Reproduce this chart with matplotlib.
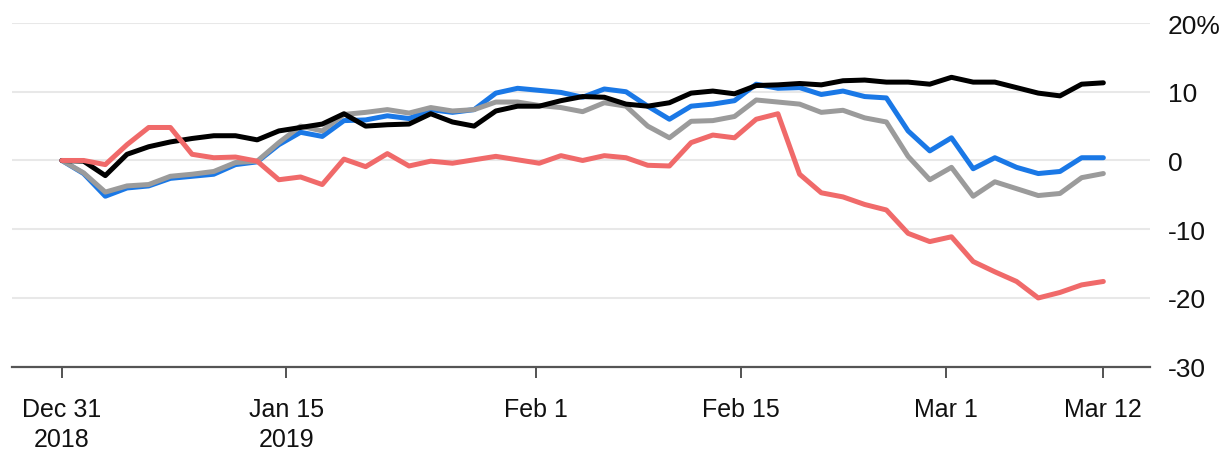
import matplotlib
matplotlib.use("Agg")
import matplotlib.pyplot as plt
import numpy as np

# Values (% change since Dec 31, 2018), one point per trading session
black = [0, -0.1, -2.2, 0.9, 2.0, 2.7, 3.2, 3.6, 3.6, 3.0,
         4.3, 4.8, 5.3, 6.8, 5.0, 5.2, 5.3, 6.8, 5.6, 5.0,
         7.2, 7.9, 7.9, 8.7, 9.3, 9.2, 8.2, 7.9, 8.4, 9.8,
         10.1, 9.7, 10.9, 11.0, 11.2, 11.0, 11.6, 11.7, 11.4, 11.4,
         11.1, 12.1, 11.4, 11.4, 10.6, 9.8, 9.4, 11.1, 11.3]
blue = [0, -1.9, -5.2, -4.0, -3.7, -2.6, -2.3, -2.0, -0.6, -0.2,
        2.3, 4.1, 3.5, 5.8, 5.9, 6.5, 6.1, 7.4, 7.0, 7.4,
        9.8, 10.5, 10.2, 9.9, 9.2, 10.4, 10.0, 7.9, 6.0, 7.9,
        8.2, 8.7, 11.1, 10.5, 10.6, 9.6, 10.1, 9.3, 9.1, 4.3,
        1.4, 3.3, -1.2, 0.4, -1.0, -1.9, -1.6, 0.4, 0.4]
gray = [0, -1.8, -4.6, -3.7, -3.5, -2.3, -2.0, -1.6, -0.3, -0.1,
        2.6, 5.0, 4.3, 6.7, 7.0, 7.4, 6.9, 7.7, 7.2, 7.4,
        8.5, 8.5, 8.0, 7.7, 7.1, 8.4, 7.9, 5.0, 3.3, 5.7,
        5.8, 6.4, 8.8, 8.5, 8.2, 7.0, 7.3, 6.2, 5.6, 0.6,
        -2.8, -1.0, -5.2, -3.1, -4.1, -5.1, -4.8, -2.5, -1.9]
red = [0, 0, -0.6, 2.3, 4.8, 4.8, 0.9, 0.4, 0.5, -0.1,
       -2.8, -2.4, -3.5, 0.2, -0.9, 1.0, -0.8, -0.1, -0.4, 0.1,
       0.6, 0.1, -0.4, 0.7, 0.0, 0.7, 0.4, -0.7, -0.8, 2.6,
       3.7, 3.3, 6.0, 6.8, -2.0, -4.7, -5.3, -6.4, -7.2, -10.6,
       -11.8, -11.1, -14.7, -16.2, -17.6, -20.0, -19.2, -18.1, -17.6]

tick_labels = ["Dec 31\n2018", "Jan 15\n2019", "Feb 1", "Feb 15", "Mar 1", "Mar 12"]
tick_pos = [0, 10.35, 21.86, 31.3, 40.76, 48]
ytick_vals = [20, 10, 0, -10, -20, -30]
ytick_labels = ["20%", "10", "0", "-10", "-20", "-30"]

plt.rcParams['font.family'] = ['Liberation Sans', 'DejaVu Sans']

W, H = 1232, 456
fig = plt.figure(figsize=(W / 100, H / 100), dpi=100)
left, right, top, bottom = 12, 1150, 24, 367.7
ax = fig.add_axes([left / W, 1 - bottom / H, (right - left) / W, (bottom - top) / H])

x = np.arange(len(black))
lw = 3.6
ax.plot(x, blue, color="#1a78e6", lw=lw, solid_joinstyle="round", solid_capstyle="round", zorder=3)
ax.plot(x, gray, color="#9b9b9b", lw=lw, solid_joinstyle="round", solid_capstyle="round", zorder=4)
ax.plot(x, black, color="#000000", lw=lw, solid_joinstyle="round", solid_capstyle="round", zorder=5)
ax.plot(x, red, color="#f06a6a", lw=lw, solid_joinstyle="round", solid_capstyle="round", zorder=6)

ax.set_xlim(-2.3, 50.15)
ax.set_ylim(-30, 20)

for v in ytick_vals[:-1]:
    ax.axhline(v, color="#e8e8e8", lw=1.5, zorder=1)

for s in ["top", "left", "right"]:
    ax.spines[s].set_visible(False)
ax.spines["bottom"].set_color("#555555")
ax.spines["bottom"].set_linewidth(1.6)

ax.set_xticks(tick_pos)
ax.set_xticklabels(tick_labels, fontsize=18, color="#111111", linespacing=1.3)
ax.tick_params(axis="x", direction="out", length=8, width=1.3, color="#444444", pad=14)

ax.yaxis.tick_right()
ax.set_yticks(ytick_vals)
ax.set_yticklabels(ytick_labels, fontsize=19, color="#111111")
ax.tick_params(axis="y", length=0, pad=13)

fig.savefig("out.png", dpi=100)
